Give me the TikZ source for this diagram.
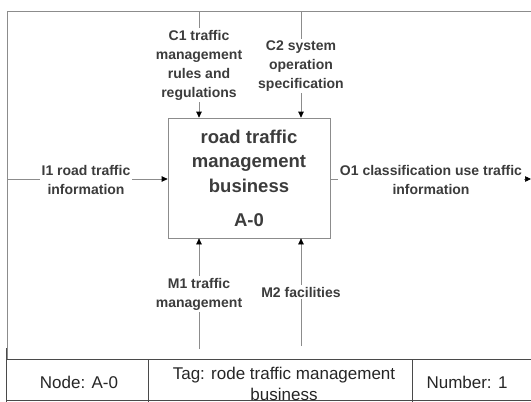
\documentclass[tikz,border=0pt]{standalone}
\usepackage{fontspec}
\setmainfont{Liberation Sans}
\usetikzlibrary{arrows.meta}
\definecolor{framegray}{HTML}{8C8C8C}
\definecolor{inkgray}{HTML}{3C3C3C}
\definecolor{rulegray}{HTML}{4A4A4A}
\tikzset{
  frameline/.style={draw=framegray, line width=0.7pt},
  flow/.style={draw=framegray, line width=0.7pt,
    -{Triangle[length=6pt,width=5.5pt,fill=black,color=black]}},
  lbl/.style={fill=white, inner sep=2pt, align=center, text=inkgray,
    font=\bfseries\fontsize{14}{19}\selectfont},
  actbox/.style={draw=framegray, line width=0.7pt, fill=white,
    minimum width=162pt, minimum height=120pt, inner sep=0pt},
  acttext/.style={align=center, text=inkgray, inner sep=0pt,
    font=\bfseries\fontsize{18.5}{24.5}\selectfont},
  tabline/.style={draw=rulegray, line width=0.8pt},
  tabtext/.style={align=center, text=black!85, inner sep=0pt,
    font=\fontsize{17}{21}\selectfont}
}
\begin{document}
\begin{tikzpicture}[x=1pt,y=-1pt]
\useasboundingbox (0,0) rectangle (531,402);
\fill[white] (0,0) rectangle (531,402);

% diagram frame (top and left edges)
\draw[frameline] (531,11) -- (7,11) -- (7,359);

% the activity box
\node[actbox] (act) at (249,178) {};
\node[acttext] (acttitle) at (249,161) {road traffic\\management\\business};
\node[acttext] (actnum) at (249,220) {A-0};

% boundary points of the arrows
\coordinate (c1src) at (199,11);
\coordinate (c2src) at (301,11);
\coordinate (i1src) at (7,179);
\coordinate (o1dst) at (531,179);
\coordinate (m1src) at (199,349);
\coordinate (m2src) at (301,346);

% controls, input, output, mechanisms
\draw[flow] (c1src) -- (c1src |- act.north);
\draw[flow] (c2src) -- (c2src |- act.north);
\draw[flow] (i1src) -- (i1src -| act.west);
\draw[flow] (act.east |- o1dst) -- (o1dst);
\draw[flow] (m1src) -- (m1src |- act.south);
\draw[flow] (m2src) -- (m2src |- act.south);

% arrow labels
\node[lbl] (c1lbl) at (199,65) {C1 traffic\\management\\rules and\\regulations};
\node[lbl] (c2lbl) at (301,66) {C2 system\\operation\\specification};
\node[lbl] (i1lbl) at (86,180) {I1 road traffic\\information};
\node[lbl] (o1lbl) at (431,180) {O1 classification use traffic\\information};
\node[lbl] (m1lbl) at (199,294) {M1 traffic\\management};
\node[lbl] (m2lbl) at (301,292) {M2 facilities};

% title block
\draw[tabline] (6,359) -- (531,359);
\draw[tabline] (6,400.5) -- (531,400.5);
\draw[tabline] (6,348) -- (6,402);
\draw[tabline] (148,360) -- (148,402);
\draw[tabline] (412,359) -- (412,402);
\node[tabtext] (tnode) at (79,382) {Node: A-0};
\node[tabtext] (ttag) at (284,384) {Tag: rode traffic management\\business};
\node[tabtext] (tnum) at (467,382) {Number: 1};
\end{tikzpicture}
\end{document}
